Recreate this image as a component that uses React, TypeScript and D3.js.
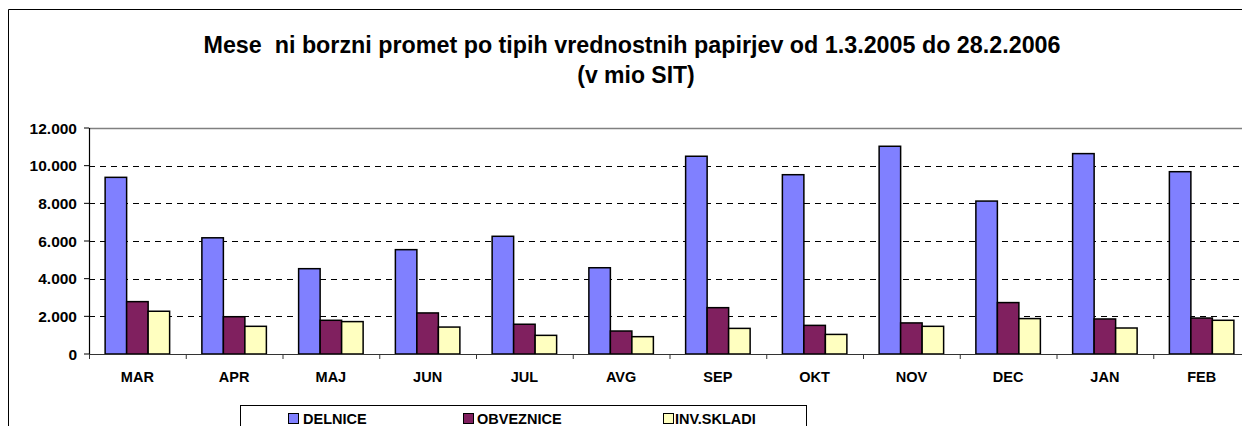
import React from "react";
import { scaleBand, scaleLinear, formatLocale } from "d3";

// Data (mio SIT)
const months = ["MAR", "APR", "MAJ", "JUN", "JUL", "AVG", "SEP", "OKT", "NOV", "DEC", "JAN", "FEB"];
const series = ["DELNICE", "OBVEZNICE", "INV.SKLADI"];
const delnice = [9380, 6170, 4530, 5540, 6250, 4580, 10500, 9520, 11030, 8120, 10640, 9680];
const obveznice = [2780, 1980, 1790, 2180, 1580, 1220, 2460, 1520, 1650, 2730, 1860, 1910];
const invSkladi = [2270, 1470, 1720, 1430, 990, 920, 1360, 1040, 1470, 1880, 1380, 1790];
const yTicks = [0, 2000, 4000, 6000, 8000, 10000, 12000];
const colors = ["#8080FF", "#80205F", "#FFFFC0"];

const titleLine1 = "Mese  ni borzni promet po tipih vrednostnih papirjev od 1.3.2005 do 28.2.2006";
const titleLine2 = "(v mio SIT)";

const fmt = formatLocale({ decimal: ",", thousands: ".", grouping: [3], currency: ["", ""] }).format(",");

export default function App() {
  const width = 1250;
  const height = 434;
  const plot = { left: 89, right: 1250, top: 128, bottom: 354 };
  const font = "'Liberation Sans', Arial, sans-serif";

  const x0 = scaleBand<string>().domain(months).range([plot.left, plot.right]);
  const bw = x0.bandwidth();
  // Excel-style gap width 150%
  const x1 = scaleBand<string>()
    .domain(series)
    .range([bw * (0.75 / 4.5), bw * (3.75 / 4.5)]);
  const y = scaleLinear().domain([0, 12000]).range([plot.bottom, plot.top]);

  const values = [delnice, obveznice, invSkladi];

  const legendItems = [
    { sq: 288, tx: 303 },
    { sq: 463, tx: 477 },
    { sq: 663, tx: 675 },
  ];

  return (
    <div style={{ margin: -8 }}>
      <svg width={width} height={height} style={{ display: "block", fontFamily: font }}>
        <rect x={0} y={0} width={width} height={height} fill="#fff" />
        {/* chart frame */}
        <line x1={8.5} y1={9.5} x2={width} y2={9.5} stroke="#000" />
        <line x1={8.5} y1={9.5} x2={8.5} y2={height} stroke="#000" />

        <text
          x={632}
          y={53}
          textAnchor="middle"
          fontSize={23}
          fontWeight="bold"
          textLength={857}
          lengthAdjust="spacingAndGlyphs"
          style={{ whiteSpace: "pre" }}
        >
          {titleLine1}
        </text>
        <text x={636} y={83} textAnchor="middle" fontSize={23} fontWeight="bold">
          {titleLine2}
        </text>

        {/* plot area border (top/right) */}
        <line x1={plot.left} y1={plot.top + 0.5} x2={plot.right - 1} y2={plot.top + 0.5} stroke="#808080" strokeWidth={1.5} />
        <line x1={plot.right - 1} y1={plot.top} x2={plot.right - 1} y2={plot.bottom} stroke="#808080" strokeWidth={1.5} />

        {/* gridlines */}
        {yTicks
          .filter((t) => t > 0 && t < 12000)
          .map((t) => (
            <line
              key={t}
              x1={plot.left}
              x2={plot.right - 1}
              y1={Math.round(y(t)) + 0.5}
              y2={Math.round(y(t)) + 0.5}
              stroke="#000"
              strokeDasharray="6,5"
            />
          ))}

        {/* bars */}
        {months.map((m, i) => (
          <g key={m} transform={`translate(${x0(m)},0)`}>
            {series.map((s, j) => (
              <rect
                key={s}
                x={x1(s)}
                y={y(values[j][i])}
                width={x1.bandwidth()}
                height={plot.bottom - y(values[j][i])}
                fill={colors[j]}
                stroke="#000"
                strokeWidth={1.5}
              />
            ))}
          </g>
        ))}

        {/* y axis */}
        <line x1={plot.left + 0.5} x2={plot.left + 0.5} y1={plot.top} y2={plot.bottom} stroke="#000" strokeWidth={1.2} />
        {yTicks.map((t) => (
          <g key={t}>
            <line x1={plot.left - 5} x2={plot.left} y1={y(t)} y2={y(t)} stroke="#000" />
            <text x={77} y={y(t)} dy="0.36em" textAnchor="end" fontSize={15.5} fontWeight="bold">
              {fmt(t)}
            </text>
          </g>
        ))}

        {/* x axis */}
        <line x1={plot.left} x2={plot.right} y1={plot.bottom + 0.5} y2={plot.bottom + 0.5} stroke="#333" strokeWidth={1.2} />
        {months.map((m) => (
          <g key={m}>
            <line x1={x0(m)! + 0.5} x2={x0(m)! + 0.5} y1={plot.bottom} y2={plot.bottom + 5} stroke="#333" />
            <text x={x0(m)! + bw / 2} y={382} textAnchor="middle" fontSize={14.5} fontWeight="bold">
              {m}
            </text>
          </g>
        ))}

        {/* legend */}
        <rect x={240.5} y={405.5} width={566} height={26} fill="#fff" stroke="#000" />
        {series.map((s, j) => (
          <g key={s}>
            <rect x={legendItems[j].sq + 0.5} y={413.5} width={10} height={10} fill={colors[j]} stroke="#000" />
            <text x={legendItems[j].tx} y={424} fontSize={14.5} fontWeight="bold">
              {s}
            </text>
          </g>
        ))}
      </svg>
    </div>
  );
}
